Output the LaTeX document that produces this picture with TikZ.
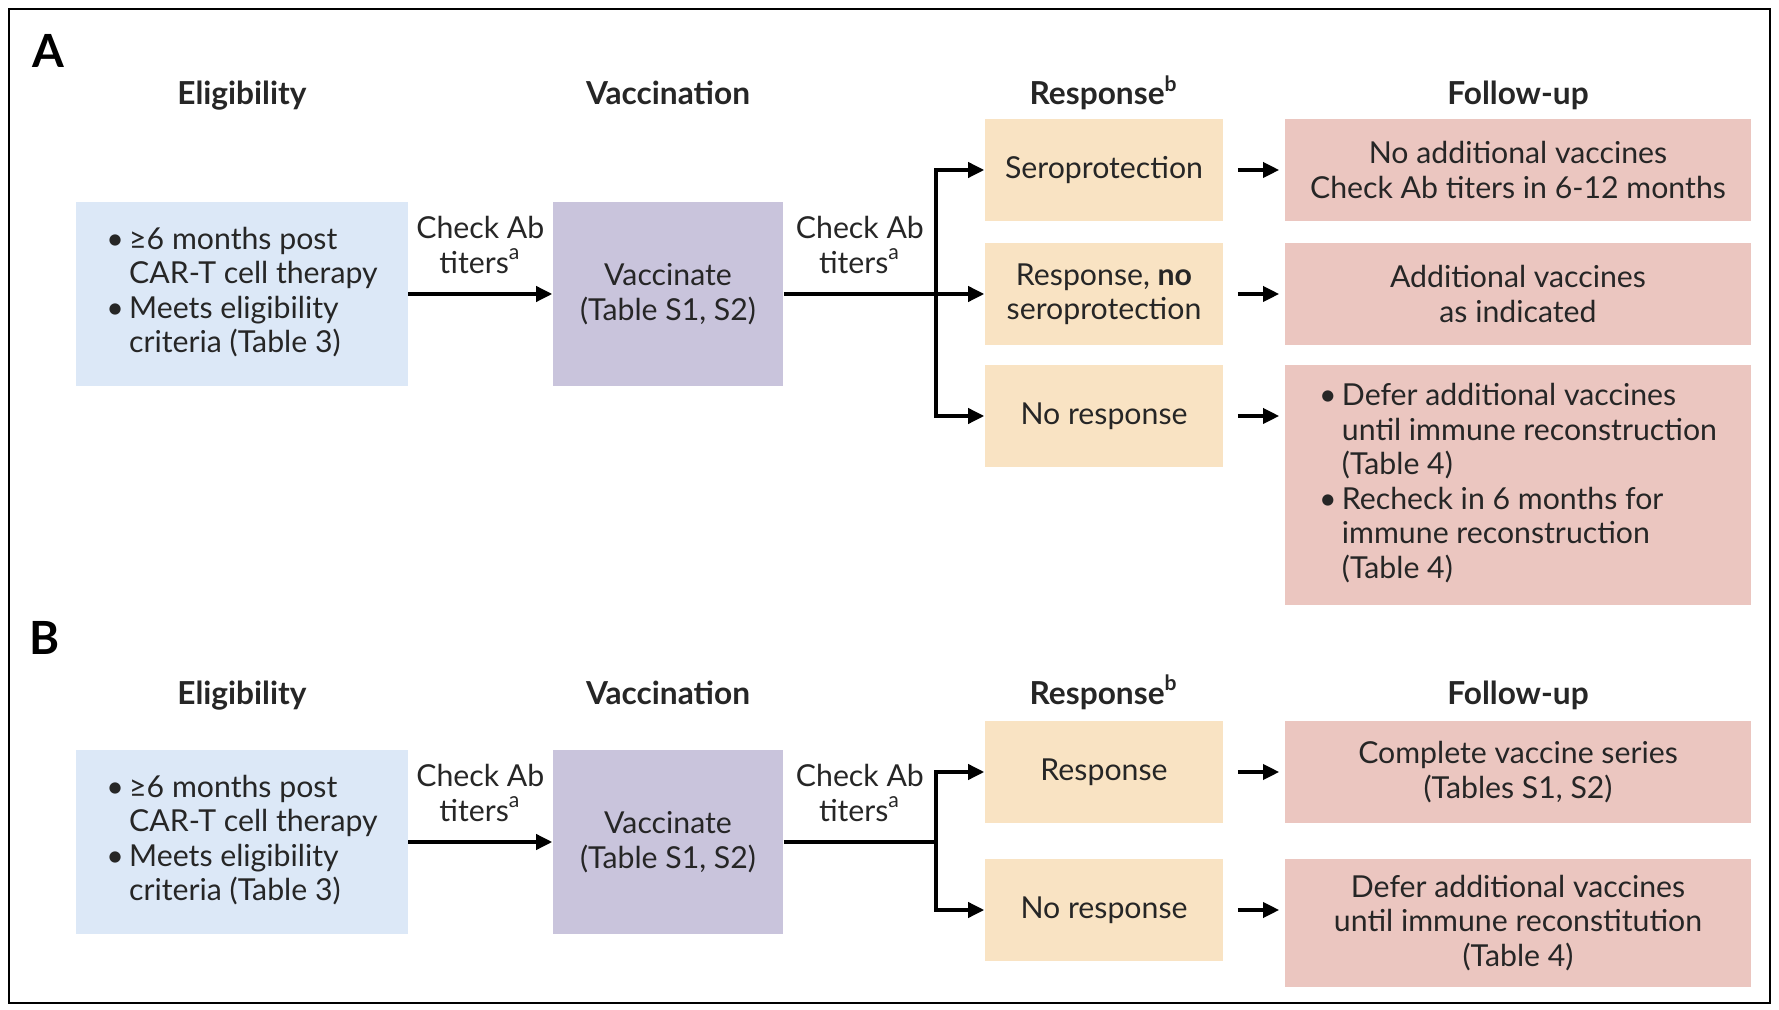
\documentclass[tikz,border=0pt]{standalone}
\usepackage{fontspec}
\setmainfont{Lato}
\usetikzlibrary{arrows.meta,positioning}
\definecolor{eligfill}{HTML}{DCE8F7}
\definecolor{vaccfill}{HTML}{C9C4DC}
\definecolor{respfill}{HTML}{F9E3C3}
\definecolor{fufill}{HTML}{EBC6C0}
\tikzset{
  body/.style={font=\fontsize{8.6}{9.8}\selectfont, text=black!85},
  stepbox/.style={body, inner sep=0pt, align=center},
  eligbox/.style={stepbox, fill=eligfill, minimum width=3.31cm, minimum height=1.83cm},
  vaccbox/.style={stepbox, fill=vaccfill, minimum width=2.30cm, minimum height=1.83cm},
  respbox/.style={stepbox, fill=respfill, minimum width=2.38cm, minimum height=1.02cm},
  fubox/.style={stepbox, fill=fufill, minimum width=4.66cm, minimum height=1.02cm},
  colhead/.style={font=\fontsize{9}{11}\selectfont\bfseries, text=black!85, anchor=base},
  panel/.style={font=\fontsize{13}{15}\selectfont\bfseries},
  flow/.style={line width=1pt, -{Triangle[length=1.6mm,width=1.5mm]}},
  trunk/.style={line width=1pt},
  titers/.style={body, above=2pt, align=center}
}
\newcommand{\bulletlist}[1]{\begin{tabular}{@{}l@{\hspace{1.5pt}}l@{}}#1\end{tabular}}
\begin{document}
\begin{tikzpicture}[x=0.01cm, y=-0.01cm]
  \useasboundingbox[fill=white] (0,0) rectangle (1779,1010);
  \draw[line width=0.7pt] (9,9) rectangle (1770,1003);

  % panel A
  \node[panel] (labA) at (48,51) {A};
  \node[colhead] (hEligA) at (242,105) {Eligibility};
  \node[colhead] (hVaccA) at (668,105) {Vaccination};
  \node[colhead] (hRespA) at (1104,105) {Response\textsuperscript{b}};
  \node[colhead] (hFuA) at (1518,105) {Follow-up};

  \node[eligbox] (eligA) at (242,294) {\bulletlist{\textbullet & ≥6 months post\\ & CAR-T cell therapy\\ \textbullet & Meets eligibility\\ & criteria (Table 3)}};
  \node[vaccbox] (vaccA) at (668,294) {Vaccinate\\(Table S1, S2)};
  \coordinate (splitA) at (936,294);
  \node[respbox] (seroA) at (1104,170) {Seroprotection};
  \node[respbox] (partA) at (1104,294) {Response, \textbf{no}\\seroprotection};
  \node[respbox] (noneA) at (1104,416) {No response};
  \node[fubox] (fuSeroA) at (1518,170) {No additional vaccines\\Check Ab titers in 6-12 months};
  \node[fubox] (fuPartA) at (1518,294) {Additional vaccines\\as indicated};
  \node[fubox, minimum height=2.40cm] (fuNoneA) at (1518,485) {\bulletlist{\textbullet & Defer additional vaccines\\ & until immune reconstruction\\ & (Table 4)\\ \textbullet & Recheck in 6 months for\\ & immune reconstruction\\ & (Table 4)}};

  \draw[flow] (eligA) -- node[titers] (chkA1) {Check Ab\\titers\textsuperscript{a}} (vaccA);
  \draw[trunk] (vaccA.east) -- node[titers] (chkA2) {Check Ab\\titers\textsuperscript{a}} (splitA);
  \draw[flow] (splitA) |- (seroA);
  \draw[flow] (splitA) -- (partA);
  \draw[flow] (splitA) |- (noneA);
  \draw[flow, shorten <=1.4mm, shorten >=0.5mm] (seroA) -- (fuSeroA);
  \draw[flow, shorten <=1.4mm, shorten >=0.5mm] (partA) -- (fuPartA);
  \draw[flow, shorten <=1.4mm, shorten >=0.5mm] (noneA.east) -- (noneA.east -| fuNoneA.west);

  % panel B
  \node[panel] (labB) at (45,638) {B};
  \node[colhead] (hEligB) at (242,704) {Eligibility};
  \node[colhead] (hVaccB) at (668,704) {Vaccination};
  \node[colhead] (hRespB) at (1104,704) {Response\textsuperscript{b}};
  \node[colhead] (hFuB) at (1518,704) {Follow-up};

  \node[eligbox] (eligB) at (242,842) {\bulletlist{\textbullet & ≥6 months post\\ & CAR-T cell therapy\\ \textbullet & Meets eligibility\\ & criteria (Table 3)}};
  \node[vaccbox] (vaccB) at (668,842) {Vaccinate\\(Table S1, S2)};
  \coordinate (splitB) at (936,842);
  \node[respbox] (respB) at (1104,772) {Response};
  \node[respbox] (noneB) at (1104,910) {No response};
  \node[fubox] (fuRespB) at (1518,772) {Complete vaccine series\\(Tables S1, S2)};
  \node[fubox, minimum height=1.28cm] (fuNoneB) at (1518,923) {Defer additional vaccines\\until immune reconstitution\\(Table 4)};

  \draw[flow] (eligB) -- node[titers] (chkB1) {Check Ab\\titers\textsuperscript{a}} (vaccB);
  \draw[trunk] (vaccB.east) -- node[titers] (chkB2) {Check Ab\\titers\textsuperscript{a}} (splitB);
  \draw[flow] (splitB) |- (respB);
  \draw[flow] (splitB) |- (noneB);
  \draw[flow, shorten <=1.4mm, shorten >=0.5mm] (respB) -- (fuRespB);
  \draw[flow, shorten <=1.4mm, shorten >=0.5mm] (noneB.east) -- (noneB.east -| fuNoneB.west);
\end{tikzpicture}
\end{document}
